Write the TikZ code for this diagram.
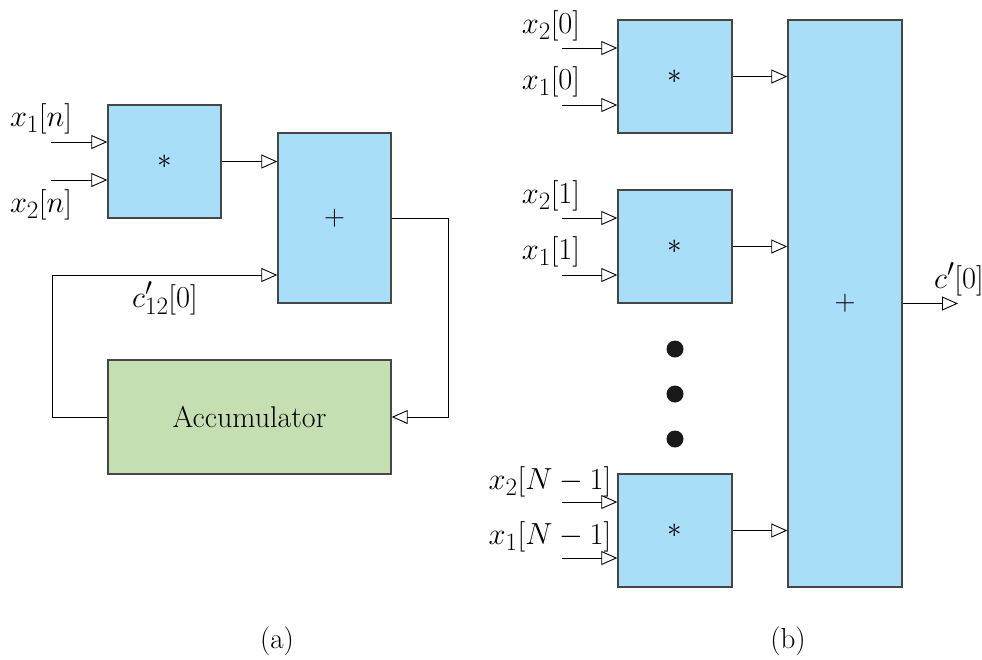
\RequirePackage{fix-cm}
\documentclass[tikz,border=0pt]{standalone}
\usetikzlibrary{arrows.meta}
\DeclareMathSizes{30.5}{30.5}{25}{21}
\definecolor{boxblue}{RGB}{169,222,249}
\definecolor{boxgreen}{RGB}{197,223,178}
\definecolor{edgegray}{RGB}{70,70,70}
\begin{document}
\begin{tikzpicture}[x=1pt,y=-1pt,
  blk/.style={draw=edgegray, line width=1.4pt, fill=boxblue, inner sep=0pt, font=\fontsize{29}{34}\selectfont},
  accbox/.style={draw=edgegray, line width=1.4pt, fill=boxgreen, inner sep=0pt, font=\fontsize{30}{36}\selectfont},
  lbl/.style={inner sep=0pt, font=\fontsize{30.5}{36}\selectfont},
  arr/.style={line width=0.9pt, -{Triangle[open, length=16pt, width=14pt, line width=0.9pt]}},
  dotc/.style={circle, fill=black!90, inner sep=0pt, minimum size=17pt}]
\useasboundingbox (0,0) rectangle (982,659);

% ---------- (a) ----------
\node[blk, minimum width=113pt, minimum height=113pt] (ma) at (164.5,161.5) {$*$};
\node[blk, minimum width=113pt, minimum height=170pt] (pa) at (334.5,218) {$+$};
\node[accbox, minimum width=283pt, minimum height=114pt] (acc) at (249.5,417) {Accumulator};

\coordinate (ain1) at (51,142);
\coordinate (ain2) at (51,180);
\draw[arr] (ain1) -- (ain1 -| ma.west);
\draw[arr] (ain2) -- (ain2 -| ma.west);
\node[lbl] (lx1n) at (41,119) {$x_1[n]$};
\node[lbl] (lx2n) at (41,205) {$x_2[n]$};

\draw[arr] (ma.east) -- (ma.east -| pa.west);

\coordinate (fbL) at (52,275);
\draw[arr] (acc.west) -| (fbL) -- (fbL -| pa.west);
\node[lbl, anchor=base west] (lc12) at (132,307) {$c'_{12}[0]$};

\coordinate (fbR) at (448,218);
\draw[arr] (pa.east) -- (fbR) |- (acc.east);

\node[inner sep=0pt, font=\fontsize{29}{34}\selectfont] (capa) at (277,641) {(a)};

% ---------- (b) ----------
\node[blk, minimum width=114pt, minimum height=567pt] (P) at (845,303.5) {$+$};
\node[blk, minimum width=114pt, minimum height=113pt] (m0) at (675,76.5) {$*$};
\node[blk, minimum width=114pt, minimum height=113pt] (m1) at (675,246.5) {$*$};
\node[blk, minimum width=114pt, minimum height=113pt] (mN) at (675,530.5) {$*$};

\coordinate (b0i2) at (562,48);
\coordinate (b0i1) at (562,105);
\coordinate (b1i2) at (562,218);
\coordinate (b1i1) at (562,275);
\coordinate (bNi2) at (562,502);
\coordinate (bNi1) at (562,558);
\draw[arr] (b0i2) -- (b0i2 -| m0.west);
\draw[arr] (b0i1) -- (b0i1 -| m0.west);
\draw[arr] (b1i2) -- (b1i2 -| m1.west);
\draw[arr] (b1i1) -- (b1i1 -| m1.west);
\draw[arr] (bNi2) -- (bNi2 -| mN.west);
\draw[arr] (bNi1) -- (bNi1 -| mN.west);

\node[lbl] (l20) at (551,26) {$x_2[0]$};
\node[lbl] (l10) at (551,82) {$x_1[0]$};
\node[lbl] (l21) at (551,196) {$x_2[1]$};
\node[lbl] (l11) at (551,252) {$x_1[1]$};
\node[lbl] (l2N) at (550,482) {$x_2[N-1]$};
\node[lbl] (l1N) at (550,537) {$x_1[N-1]$};

\draw[arr] (m0.east) -- (m0.east -| P.west);
\draw[arr] (m1.east) -- (m1.east -| P.west);
\draw[arr] (mN.east) -- (mN.east -| P.west);

\node[dotc] (d1) at (675,349) {};
\node[dotc] (d2) at (675,394) {};
\node[dotc] (d3) at (675,439) {};

\coordinate (cout) at (958,303.5);
\draw[arr] (P.east) -- (cout);
\node[lbl, anchor=base west] (lc) at (934,288) {$c'[0]$};

\node[inner sep=0pt, font=\fontsize{29}{34}\selectfont] (capb) at (788,641) {(b)};
\end{tikzpicture}
\end{document}
